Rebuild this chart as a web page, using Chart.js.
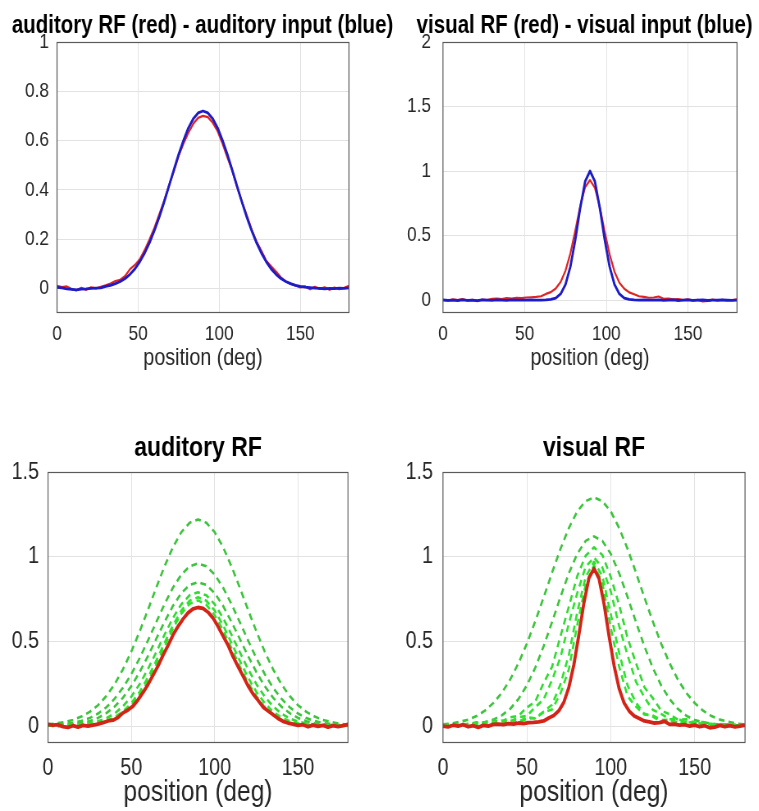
<!DOCTYPE html>
<html lang="en">

<head>
  <meta charset="UTF-8">
  <title>Receptive fields</title>
  <script src="https://cdn.jsdelivr.net/npm/chart.js"></script>
  <style>
    body { margin: 0; background: #fff; width: 759px; height: 811px; overflow: hidden; position: relative; }
    /* matlab export used a condensed face, so squeeze the canvases sideways */
    canvas { position: absolute; transform: scaleX(0.82); transform-origin: 0 0; }
  </style>
</head>

<body>
  <canvas id="audTop" width="494" height="380" style="left:0;top:0"></canvas>
  <canvas id="visTop" width="499" height="380" style="left:380px;top:0"></canvas>
  <canvas id="audBottom" width="483" height="411" style="left:0;top:400px"></canvas>
  <canvas id="visBottom" width="522" height="411" style="left:380px;top:400px"></canvas>

  <script>
    const SQUEEZE = 0.82;

    // positions (deg)
    const posFine = [0, 3, 6, 9, 12, 15, 18, 21, 24, 27, 30, 33, 36, 39, 42, 45, 48, 51, 54, 57,
      60, 63, 66, 69, 72, 75, 78, 81, 84, 87, 90, 93, 96, 99, 102, 105, 108, 111, 114, 117,
      120, 123, 126, 129, 132, 135, 138, 141, 144, 147, 150, 153, 156, 159, 162, 165, 168, 171, 174, 177, 180];
    const posCoarse = [0, 5, 10, 15, 20, 25, 30, 35, 40, 45, 50, 55, 60, 65, 70, 75, 80, 85, 90,
      95, 100, 105, 110, 115, 120, 125, 130, 135, 140, 145, 150, 155, 160, 165, 170, 175, 180];

    const xTicks = [0, 50, 100, 150];
    const yTicksAudTop = [0, 0.2, 0.4, 0.6, 0.8, 1];
    const yTicksVisTop = [0, 0.5, 1, 1.5, 2];
    const yTicksBottom = [0, 0.5, 1, 1.5];

    // auditory input (blue) and auditory RF (red)
    const audInput = [0.004, 0.002, -0.002, -0.004, -0.006, -0.003, -0.002, 0.000, 0.001, 0.002,
      0.008, 0.012, 0.019, 0.028, 0.040, 0.057, 0.079, 0.108, 0.143, 0.185,
      0.234, 0.289, 0.350, 0.415, 0.480, 0.544, 0.601, 0.651, 0.688, 0.712,
      0.720,
      0.712, 0.688, 0.651, 0.601, 0.544, 0.480, 0.415, 0.350, 0.289, 0.234,
      0.185, 0.143, 0.108, 0.079, 0.057, 0.040, 0.028, 0.019, 0.012, 0.008,
      0.005, 0.003, 0.001, 0.000, -0.002, 0.000, -0.001, 0.001, 0.000, 0.002];
    const audRF = [0.010, 0.005, 0.008, -0.003, -0.008, 0.002, -0.006, 0.004, 0.000, 0.006,
      0.012, 0.020, 0.030, 0.035, 0.050, 0.078, 0.095, 0.118, 0.155, 0.198,
      0.245, 0.300, 0.355, 0.418, 0.475, 0.538, 0.588, 0.632, 0.668, 0.692,
      0.700,
      0.695, 0.672, 0.638, 0.588, 0.532, 0.478, 0.410, 0.352, 0.296, 0.238,
      0.190, 0.152, 0.112, 0.090, 0.068, 0.045, 0.028, 0.018, 0.012, 0.004,
      0.008, -0.004, 0.006, -0.002, 0.004, -0.006, 0.003, -0.003, 0.002, 0.010];

    // visual input (blue) and visual RF (red)
    const visInput = [0.002, -0.002, 0.000, -0.003, 0.001, -0.002, 0.000, -0.004, 0.001, 0.000,
      -0.002, 0.001, 0.000, -0.002, 0.001, 0.000, -0.001, 0.000, 0.001, 0.000,
      0.000, 0.001, 0.005, 0.016, 0.048, 0.121, 0.259, 0.468, 0.713, 0.919,
      1.000,
      0.919, 0.713, 0.468, 0.259, 0.121, 0.048, 0.016, 0.005, 0.001, 0.000,
      0.001, -0.001, 0.000, 0.002, -0.002, 0.000, 0.001, -0.003, 0.000, 0.001,
      -0.002, 0.000, 0.001, -0.003, 0.000, -0.001, 0.002, 0.000, -0.002, 0.000];
    const visRF = [0.000, -0.005, 0.005, 0.000, 0.008, -0.004, 0.002, -0.008, 0.004, 0.000,
      0.010, 0.012, 0.008, 0.015, 0.012, 0.018, 0.015, 0.020, 0.022, 0.025,
      0.030, 0.048, 0.062, 0.090, 0.140, 0.228, 0.362, 0.540, 0.728, 0.875,
      0.930,
      0.870, 0.720, 0.530, 0.355, 0.220, 0.135, 0.088, 0.060, 0.045, 0.030,
      0.025, 0.018, 0.020, 0.028, 0.010, 0.012, 0.005, 0.008, 0.000, 0.006,
      -0.004, 0.002, -0.010, -0.006, 0.004, -0.004, 0.002, -0.005, 0.000, 0.006];

    // auditory RF during training (green dashed)
    const audTrain1 = [0.010, 0.016, 0.024, 0.036, 0.056, 0.084, 0.123, 0.177, 0.248, 0.336, 0.440, 0.559, 0.687, 0.819, 0.945, 1.057, 1.145, 1.200,
      1.220,
      1.200, 1.145, 1.057, 0.945, 0.819, 0.687, 0.559, 0.440, 0.336, 0.248, 0.177, 0.123, 0.084, 0.056, 0.036, 0.024, 0.014, 0.008];
    const audTrain2 = [0.006, 0.010, 0.012, 0.019, 0.030, 0.047, 0.074, 0.111, 0.162, 0.227, 0.307, 0.401, 0.506, 0.615, 0.722, 0.818, 0.894, 0.943,
      0.960,
      0.943, 0.894, 0.818, 0.722, 0.615, 0.506, 0.401, 0.307, 0.227, 0.162, 0.111, 0.074, 0.047, 0.030, 0.018, 0.012, 0.006, 0.004];
    const audTrain3 = [0.004, 0.002, 0.008, 0.010, 0.018, 0.029, 0.048, 0.076, 0.115, 0.168, 0.236, 0.319, 0.414, 0.516, 0.617, 0.710, 0.785, 0.833,
      0.850,
      0.833, 0.785, 0.710, 0.617, 0.516, 0.414, 0.319, 0.236, 0.168, 0.115, 0.076, 0.048, 0.029, 0.017, 0.010, 0.006, 0.002, 0.005];
    const audTrain4 = [0.002, 0.006, 0.003, 0.008, 0.010, 0.018, 0.028, 0.046, 0.074, 0.117, 0.174, 0.248, 0.337, 0.438, 0.541, 0.639, 0.719, 0.772,
      0.790,
      0.772, 0.719, 0.639, 0.541, 0.438, 0.337, 0.248, 0.174, 0.117, 0.074, 0.045, 0.026, 0.015, 0.010, 0.004, 0.007, 0.001, 0.003];
    const audTrain5 = [0.005, -0.002, 0.006, 0.004, 0.008, 0.010, 0.017, 0.030, 0.052, 0.086, 0.135, 0.202, 0.287, 0.387, 0.493, 0.596, 0.682, 0.740,
      0.760,
      0.740, 0.682, 0.596, 0.493, 0.387, 0.287, 0.202, 0.135, 0.085, 0.051, 0.029, 0.015, 0.010, 0.006, 0.002, 0.005, -0.002, 0.004];
    const audTrain6 = [0.005, -0.004, 0.006, 0.002, 0.008, 0.010, 0.018, 0.030, 0.046, 0.076, 0.120, 0.186, 0.266, 0.364, 0.472, 0.576, 0.664, 0.722,
      0.742,
      0.716, 0.655, 0.566, 0.462, 0.354, 0.256, 0.176, 0.112, 0.068, 0.038, 0.020, 0.010, 0.008, 0.002, 0.006, -0.003, 0.004, 0.000];

    // visual RF during training (green dashed)
    const visTrain1 = [0.010, 0.015, 0.025, 0.038, 0.059, 0.091, 0.136, 0.196, 0.274, 0.372, 0.487, 0.619, 0.760, 0.906, 1.046, 1.169, 1.267, 1.328,
      1.350,
      1.328, 1.267, 1.169, 1.046, 0.906, 0.760, 0.619, 0.487, 0.372, 0.274, 0.196, 0.136, 0.091, 0.059, 0.038, 0.025, 0.015, 0.010];
    const visTrain2 = [0.004, 0.008, 0.006, 0.012, 0.016, 0.024, 0.038, 0.063, 0.101, 0.160, 0.241, 0.345, 0.472, 0.614, 0.762, 0.902, 1.017, 1.093,
      1.120,
      1.093, 1.017, 0.902, 0.762, 0.614, 0.472, 0.345, 0.241, 0.160, 0.101, 0.061, 0.036, 0.022, 0.014, 0.008, 0.010, 0.004, 0.006];
    const visTrain3 = [0.008, 0.003, 0.012, 0.010, 0.022, 0.018, 0.034, 0.026, 0.052, 0.060, 0.110, 0.145, 0.255, 0.350, 0.530, 0.705, 0.885, 1.005,
      1.055,
      1.010, 0.880, 0.715, 0.520, 0.372, 0.230, 0.165, 0.092, 0.070, 0.038, 0.040, 0.020, 0.024, 0.008, 0.012, 0.004, 0.008, 0.002];
    const visTrain4 = [0.004, 0.010, 0.002, 0.014, 0.008, 0.020, 0.014, 0.032, 0.026, 0.052, 0.060, 0.112, 0.158, 0.272, 0.405, 0.605, 0.785, 0.940,
      0.995,
      0.935, 0.795, 0.590, 0.418, 0.262, 0.170, 0.096, 0.072, 0.040, 0.042, 0.020, 0.024, 0.010, 0.014, 0.003, 0.009, 0.002, 0.006];
    const visTrain5 = [0.006, 0.000, 0.008, 0.004, 0.012, 0.006, 0.016, 0.010, 0.028, 0.020, 0.044, 0.046, 0.086, 0.126, 0.246, 0.420, 0.672, 0.880,
      0.970,
      0.886, 0.660, 0.432, 0.240, 0.138, 0.072, 0.056, 0.028, 0.032, 0.016, 0.020, 0.006, 0.012, 0.002, 0.008, 0.000, 0.006, 0.002];
    const visTrain6 = [0.010, 0.000, 0.012, 0.004, 0.016, 0.006, 0.020, 0.010, 0.032, 0.026, 0.052, 0.046, 0.082, 0.098, 0.192, 0.335, 0.596, 0.835,
      0.950,
      0.846, 0.580, 0.350, 0.176, 0.115, 0.068, 0.062, 0.036, 0.038, 0.020, 0.024, 0.008, 0.014, 0.004, 0.010, 0.002, 0.008, 0.000];

    const FONT = "'Liberation Sans', Arial, sans-serif";
    const textColor = '#262626';
    const gridColor = '#e2e2e2';
    const lime = '#2ee22e';
    const green = '#3cc43c';

    function xy(pos, vals) {
      return vals.map((v, i) => ({ x: pos[i], y: v }));
    }

    function line(pos, vals, color, width, order, dash) {
      return {
        data: xy(pos, vals),
        yAxisID: 'y',
        borderColor: color,
        borderWidth: width,
        borderDash: dash || [],
        order: order,
        pointRadius: 0,
        tension: 0,
        borderJoinStyle: 'round'
      };
    }

    // box round the plot area, like the matlab axes
    const framePlugin = {
      id: 'frame',
      afterDatasetsDraw(chart) {
        const { ctx, chartArea: a } = chart;
        ctx.save();
        ctx.strokeStyle = '#5a5a5a';
        ctx.lineWidth = 1.2;
        ctx.strokeRect(a.left, Math.round(a.top) + 0.5, a.right - a.left, Math.round(a.bottom - a.top) - 1);
        ctx.restore();
      }
    };

    // page pixels -> canvas pixels (canvas is squeezed sideways)
    const px = v => v / SQUEEZE;

    function makePanel(id, p) {
      new Chart(document.getElementById(id), {
        type: 'line',
        data: { datasets: p.datasets },
        options: {
          responsive: false,
          animation: false,
          devicePixelRatio: 1,
          layout: { padding: 0 },
          plugins: {
            legend: { display: false },
            tooltip: { enabled: false },
            title: {
              display: true,
              text: p.title,
              color: '#000',
              font: p.titleFont,
              padding: p.titlePad
            }
          },
          scales: {
            x: {
              type: 'linear',
              min: 0,
              max: 180,
              afterBuildTicks: s => { s.ticks = xTicks.map(v => ({ value: v })); },
              afterFit: s => { s.height = p.xHeight; },
              grid: { color: gridColor, drawTicks: false },
              border: { display: false },
              ticks: {
                color: textColor,
                padding: p.xTickPad,
                font: { family: FONT, size: p.tickSize },
                maxRotation: 0,
                callback: v => String(v)
              },
              title: {
                display: true,
                text: 'position (deg)',
                color: textColor,
                font: { family: FONT, size: p.labelSize, lineHeight: 1.2 },
                padding: { top: 0, bottom: p.labelPadBottom }
              }
            },
            y: {
              type: 'linear',
              min: p.yMin,
              max: p.yMax,
              afterBuildTicks: s => { s.ticks = p.yTicks.map(v => ({ value: v })); },
              afterFit: s => { s.width = px(p.plotLeft); },
              grid: { color: gridColor, drawTicks: false },
              border: { display: false },
              ticks: {
                color: textColor,
                padding: px(p.yTickPad),
                font: { family: FONT, size: p.tickSize },
                callback: v => String(v)
              }
            },
            // empty right axis, only keeps the plot box narrower than the title
            y2: {
              position: 'right',
              grid: { display: false },
              border: { display: false },
              ticks: { display: false },
              afterFit: s => { s.width = s.chart.width - px(p.plotRight); }
            }
          }
        },
        plugins: [framePlugin]
      });
    }

    const topTitleFont = { family: FONT, size: 25, weight: 'bold', lineHeight: 1.2 };
    const bottomTitleFont = { family: FONT, size: 28, weight: 'bold', lineHeight: 1.2 };

    makePanel('audTop', {
      title: 'auditory RF (red) - auditory input (blue)',
      titleFont: topTitleFont,
      titlePad: { top: 11.2, bottom: 0.8 },
      plotLeft: 57, plotRight: 349, xHeight: 67,
      yMin: -0.1, yMax: 1, yTicks: yTicksAudTop,
      tickSize: 21, xTickPad: 9, yTickPad: 8, labelSize: 24, labelPadBottom: 7.6,
      datasets: [
        line(posFine, audInput, '#1c1cc8', 2.8, 0),
        line(posFine, audRF, '#e02424', 2.2, 1)
      ]
    });

    makePanel('visTop', {
      title: 'visual RF (red) - visual input (blue)',
      titleFont: topTitleFont,
      titlePad: { top: 11.2, bottom: 0.8 },
      plotLeft: 63, plotRight: 357, xHeight: 67,
      yMin: -0.1, yMax: 2, yTicks: yTicksVisTop,
      tickSize: 21, xTickPad: 9, yTickPad: 12, labelSize: 24, labelPadBottom: 7.6,
      datasets: [
        line(posFine, visInput, '#1c1cc8', 2.8, 0),
        line(posFine, visRF, '#e02424', 2.2, 1)
      ]
    });

    makePanel('audBottom', {
      title: 'auditory RF',
      titleFont: bottomTitleFont,
      titlePad: { top: 31.7, bottom: 6.7 },
      plotLeft: 48, plotRight: 348, xHeight: 68,
      yMin: -0.1, yMax: 1.5, yTicks: yTicksBottom,
      tickSize: 24, xTickPad: 10.5, yTickPad: 9, labelSize: 30, labelPadBottom: 0,
      datasets: [
        line(posFine, audRF, '#d42418', 3.8, 0),
        line(posCoarse, audTrain6, lime, 2.6, 1, [7, 5]),
        line(posCoarse, audTrain5, lime, 2.6, 2, [7, 5]),
        line(posCoarse, audTrain4, '#34d834', 2.6, 3, [7, 5]),
        line(posCoarse, audTrain3, green, 2.6, 4, [7, 5]),
        line(posCoarse, audTrain2, green, 2.6, 5, [7, 5]),
        line(posCoarse, audTrain1, green, 2.6, 6, [7, 5])
      ]
    });

    makePanel('visBottom', {
      title: 'visual RF',
      titleFont: bottomTitleFont,
      titlePad: { top: 31.7, bottom: 6.7 },
      plotLeft: 63, plotRight: 365, xHeight: 68,
      yMin: -0.1, yMax: 1.5, yTicks: yTicksBottom,
      tickSize: 24, xTickPad: 10.5, yTickPad: 10, labelSize: 30, labelPadBottom: 0,
      datasets: [
        line(posFine, visRF, '#d42418', 3.8, 0),
        line(posCoarse, visTrain6, lime, 2.6, 1, [7, 5]),
        line(posCoarse, visTrain5, lime, 2.6, 2, [7, 5]),
        line(posCoarse, visTrain4, lime, 2.6, 3, [7, 5]),
        line(posCoarse, visTrain3, '#34d834', 2.6, 4, [7, 5]),
        line(posCoarse, visTrain2, green, 2.6, 5, [7, 5]),
        line(posCoarse, visTrain1, green, 2.6, 6, [7, 5])
      ]
    });
  </script>
</body>

</html>
